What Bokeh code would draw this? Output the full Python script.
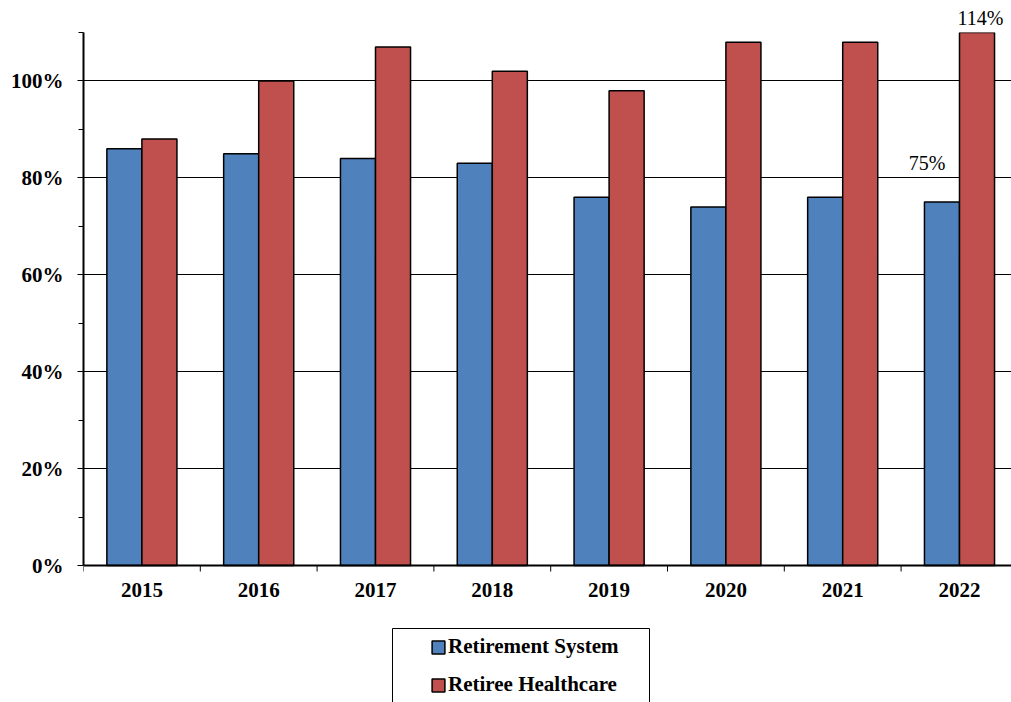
import math
from bokeh.plotting import figure
from bokeh.models import (ColumnDataSource, Range1d, FixedTicker, PrintfTickFormatter,
                          Label, Legend, LegendItem, BoxAnnotation, Span, Title)
from bokeh.transform import dodge
from bokeh.embed import file_html
from bokeh.resources import INLINE

years = ["2015", "2016", "2017", "2018", "2019", "2020", "2021", "2022"]
retirement_system = [86, 85, 84, 83, 76, 74, 76, 75]
retiree_healthcare = [88, 100, 107, 102, 98, 108, 108, 114]
y_ticks = [0, 20, 40, 60, 80, 100]
y_minor = [10, 30, 50, 70, 90, 110]
y_max = 110
series_names = ["Retirement System", "Retiree Healthcare"]

BLUE = "#4F81BD"
RED = "#C0504D"
FONT = "Liberation Serif"

W, H = 1011, 702
LEFT, TOP = 83, 32
ZERO_PX = 565            # pixel row of the 0% baseline
CAT_PX = 116.8           # pixels per category
FRAME_W = W - LEFT
FRAME_H = H - TOP
PX_PER_UNIT = (ZERO_PX - TOP) / y_max

xpos = [i + 0.5 for i in range(len(years))]
bounds = list(range(len(years) + 1))
src = ColumnDataSource(dict(x=xpos, rs=retirement_system, hc=retiree_healthcare, yr=years))

p = figure(width=W, height=H, output_backend="svg", toolbar_location=None,
           x_range=Range1d(0, FRAME_W / CAT_PX),
           y_range=Range1d(y_max - FRAME_H / PX_PER_UNIT, y_max),
           min_border_left=LEFT, min_border_right=0, min_border_top=TOP, min_border_bottom=0)
p.outline_line_color = None
p.background_fill_color = "white"
p.border_fill_color = "white"

# grid
p.xgrid.visible = False
p.ygrid.ticker = FixedTicker(ticks=y_ticks[1:] + [y_max])
p.ygrid.grid_line_color = "black"
p.ygrid.grid_line_width = 1

r1 = p.vbar(x=dodge("x", -0.15, range=p.x_range), top="rs", width=0.3, source=src,
            fill_color=BLUE, line_color="black", line_width=1.5)
r2 = p.vbar(x=dodge("x", 0.15, range=p.x_range), top="hc", width=0.3, source=src,
            fill_color=RED, line_color="black", line_width=1.5)

# y axis
p.yaxis.bounds = (0, y_max)
p.yaxis.ticker = FixedTicker(ticks=y_ticks, minor_ticks=y_minor)
p.yaxis.formatter = PrintfTickFormatter(format="%d%%")
p.yaxis.major_label_text_font = FONT
p.yaxis.major_label_text_font_style = "bold"
p.yaxis.major_label_text_font_size = "21px"
p.yaxis.major_label_text_color = "black"
p.yaxis.major_tick_out = 6
p.yaxis.major_tick_in = 0
p.yaxis.minor_tick_out = 5
p.yaxis.minor_tick_in = 0
p.yaxis.axis_line_width = 2
p.yaxis.axis_line_color = "black"
p.yaxis.major_tick_line_color = "black"
p.yaxis.minor_tick_line_color = "black"
p.yaxis.major_label_standoff = 14

# x axis (drawn at the 0 baseline)
p.xaxis.visible = False
p.add_layout(Span(location=0, dimension="width", line_color="black", line_width=2))
p.ray(x=bounds, y=[0] * len(bounds), length=6, length_units="screen",
      angle=-math.pi / 2, line_color="black", line_width=1)
p.text(x="x", y=0, text="yr", source=src, text_font=FONT, text_font_style="bold",
       text_font_size="21px", text_color="black", text_align="center",
       text_baseline="top", y_offset=17)

# data labels
p.add_layout(Label(x=xpos[-1] - 0.15, y=retirement_system[-1], text=f"{retirement_system[-1]}%",
                   text_font=FONT, text_font_size="20px", text_align="center",
                   text_baseline="alphabetic", x_offset=-15, y_offset=39, text_color="black"))
p.add_layout(Title(text=f"{retiree_healthcare[-1]}%", align="right", offset=8,
                   text_font=FONT, text_font_size="20px", text_font_style="normal",
                   text_color="black", vertical_align="bottom", standoff=8), "above")

# legend box
p.add_layout(BoxAnnotation(left=392 - LEFT, right=649 - LEFT, top=H - 628, bottom=-20,
                           left_units="screen", right_units="screen",
                           top_units="screen", bottom_units="screen",
                           fill_color="white", fill_alpha=1.0,
                           line_color="black", line_width=1, line_alpha=1.0))

legend = Legend(items=[LegendItem(label=series_names[0], renderers=[r1]),
                       LegendItem(label=series_names[1], renderers=[r2])],
                location=(430 - LEFT, H - 697), orientation="vertical",
                padding=0, margin=0, spacing=13, glyph_width=16, glyph_height=16,
                label_height=20, label_standoff=2,
                label_text_font=FONT, label_text_font_style="bold",
                label_text_font_size="21px", label_text_color="black",
                border_line_color=None, background_fill_alpha=0)
p.add_layout(legend, "center")

open("out.html", "w").write(file_html(p, INLINE))
